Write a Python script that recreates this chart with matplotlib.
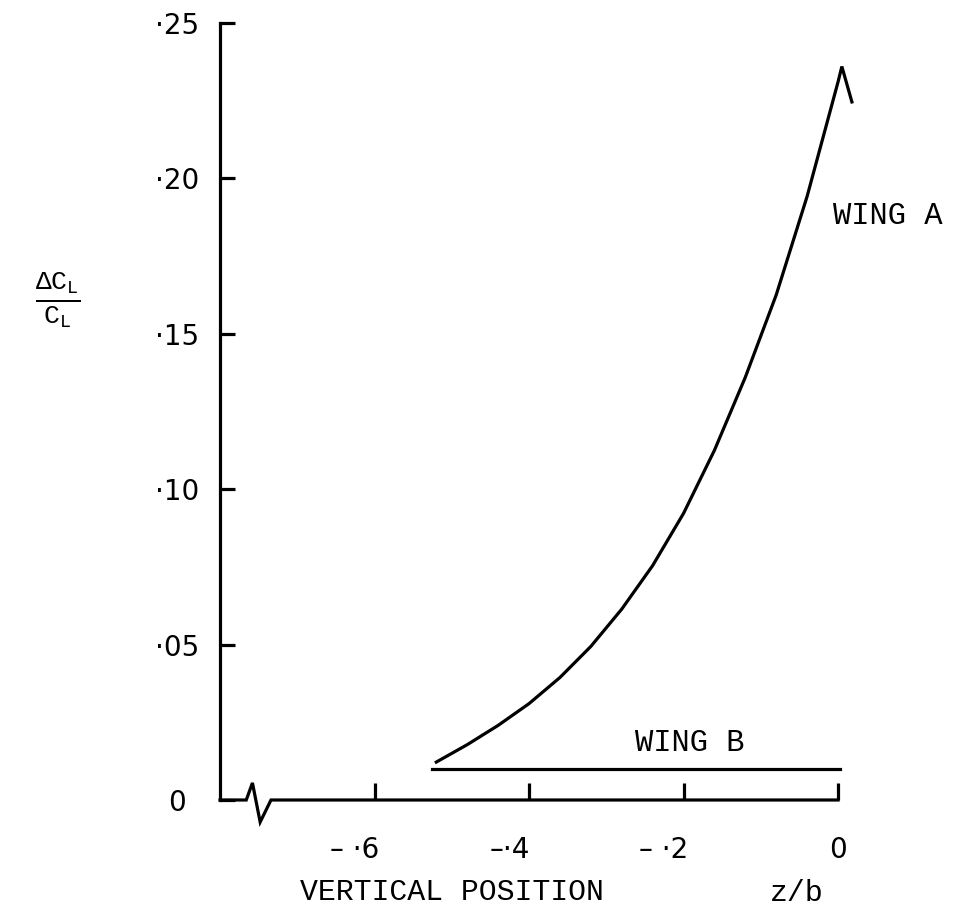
import numpy as np
import matplotlib
matplotlib.use("Agg")
import matplotlib.pyplot as plt
from matplotlib.transforms import ScaledTranslation

# wing A curve (z/b, dCL/CL); last point is the little hook
wing_a_z = [-0.52, -0.48, -0.44, -0.40, -0.36, -0.32, -0.28, -0.24,
            -0.20, -0.16, -0.12, -0.08, -0.04, 0.0, 0.005, 0.018]
wing_a_val = [0.0122, 0.0178, 0.0240, 0.0310, 0.0394, 0.0494, 0.0614, 0.0754,
              0.0922, 0.1125, 0.1360, 0.1625, 0.1942, 0.2310, 0.2360, 0.2246]

# wing B is flat
wing_b_z = [-0.525, 0.002]
wing_b_val = [0.010, 0.010]

# bottom axis with the break symbol
axis_z = [-0.800, -0.766, -0.758, -0.748, -0.734, 0.0]
axis_val = [0.0, 0.0, 0.0055, -0.0071, 0.0, 0.0]

x_ticks = [-0.6, -0.4, -0.2, 0.0]
x_labels = ["– ·6", "–·4", "– ·2", "0"]
y_ticks = [0.0, 0.05, 0.10, 0.15, 0.20, 0.25]
y_labels = ["0", "·05", "·10", "·15", "·20", "·25"]

plt.rcParams["mathtext.fontset"] = "custom"
plt.rcParams["mathtext.rm"] = "Liberation Mono"
plt.rcParams["mathtext.it"] = "Liberation Mono"

fig = plt.figure(figsize=(9.55, 9.18), dpi=100)
ax = fig.add_axes([220 / 955, 1 - 800 / 918, 618 / 955, 777 / 918])

lw = 2.3
ax.plot(wing_a_z, wing_a_val, color="black", lw=lw, clip_on=False,
        solid_joinstyle="miter")
ax.plot(wing_b_z, wing_b_val, color="black", lw=lw, clip_on=False)
ax.plot(axis_z, axis_val, color="black", lw=lw, clip_on=False,
        solid_joinstyle="miter")

ax.set_xlim(-0.8, 0.0)
ax.set_ylim(0.0, 0.25)

for s in ["top", "right", "bottom"]:
    ax.spines[s].set_visible(False)
ax.spines["left"].set_linewidth(lw)

ax.set_xticks(x_ticks)
ax.set_xticklabels(x_labels, fontsize=20, family="DejaVu Sans")
ax.set_yticks(y_ticks)
ax.set_yticklabels(y_labels, fontsize=20, family="DejaVu Sans", ha="center")
ax.tick_params(axis="x", direction="in", length=12, width=lw, pad=26)
ax.tick_params(axis="y", direction="in", length=11, width=lw, pad=31)

# shift the negative x labels a bit left, like the typed original
for lbl, txt in zip(ax.get_xticklabels(), x_labels):
    if txt != "0":
        lbl.set_transform(lbl.get_transform() +
                          ScaledTranslation(-14 / 72, 0, fig.dpi_scale_trans))

mono = "Liberation Mono"
ax.text(-0.006, 0.188, "WING A", fontsize=22, family=mono, va="center",
        ha="left", clip_on=False)
ax.text(-0.263, 0.0183, "WING B", fontsize=22, family=mono, va="center",
        ha="left")

fig.text(300 / 955, 1 - 892 / 918, "VERTICAL POSITION", fontsize=21.5,
         family=mono, va="center", ha="left")
fig.text(770 / 955, 1 - 893 / 918, "z/b", fontsize=21.5, family=mono,
         va="center", ha="left")
fig.text(58 / 955, 1 - 300 / 918,
         r"$\frac{\Delta \mathrm{C}_{\mathrm{L}}}{\mathrm{C}_{\mathrm{L}}}$",
         fontsize=27, va="center", ha="center")

fig.savefig("out.png", dpi=100)
